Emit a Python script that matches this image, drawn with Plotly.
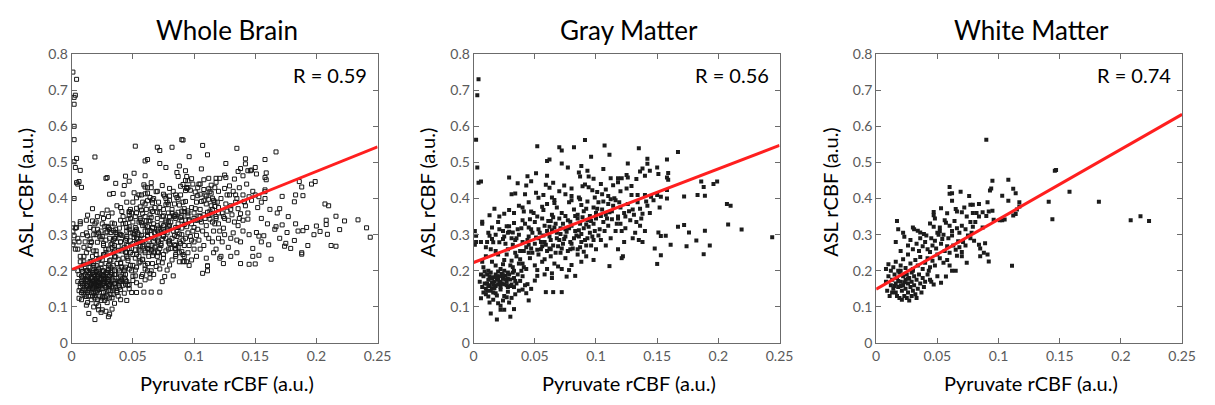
import plotly.graph_objects as go

# ---------------- data ----------------
panel_titles = ["Whole Brain", "Gray Matter", "White Matter"]
r_labels = ["R = 0.59", "R = 0.56", "R = 0.74"]
x_label = "Pyruvate rCBF (a.u.)"
y_label = "ASL rCBF (a.u.)"
x_ticks = [0, 0.05, 0.1, 0.15, 0.2, 0.25]
x_tick_text = ["0", "0.05", "0.1", "0.15", "0.2", "0.25"]
y_ticks = [0, 0.1, 0.2, 0.3, 0.4, 0.5, 0.6, 0.7, 0.8]
y_tick_text = ["0", "0.1", "0.2", "0.3", "0.4", "0.5", "0.6", "0.7", "0.8"]

fit_x = [0.0, 0.25]
wb_fit_y = [0.203, 0.543]
gm_fit_y = [0.223, 0.547]
wm_fit_y = [0.149, 0.633]

# Gray matter voxels (x = pyruvate rCBF, y = ASL rCBF)
gm_points = [
    (0.004,0.730),(0.003,0.686),(0.002,0.563),(0.003,0.486),(0.004,0.444),(0.006,0.447),(0.001,0.310),(0.002,0.280),(0.001,0.272),
    (0.052,0.545),(0.070,0.542),(0.072,0.533),(0.082,0.542),(0.091,0.562),(0.107,0.547),(0.135,0.539),(0.111,0.521),(0.096,0.516),
    (0.060,0.504),(0.062,0.508),(0.072,0.497),(0.126,0.497),(0.142,0.510),(0.167,0.529),(0.158,0.508),
    (0.077,0.486),(0.051,0.470),(0.029,0.458),(0.044,0.462),(0.060,0.463),(0.047,0.448),(0.086,0.472),(0.087,0.461),(0.093,0.477),
    (0.094,0.461),(0.098,0.455),(0.106,0.482),(0.112,0.456),(0.118,0.456),(0.121,0.456),(0.125,0.465),(0.126,0.458),(0.133,0.454),
    (0.136,0.475),(0.142,0.496),(0.138,0.483),(0.140,0.463),(0.144,0.477),(0.150,0.486),(0.159,0.471),(0.158,0.458),(0.159,0.452),
    (0.151,0.468),(0.088,0.490),
    (0.043,0.436),(0.031,0.412),(0.034,0.414),(0.042,0.412),(0.051,0.416),(0.059,0.438),(0.057,0.410),(0.065,0.444),(0.074,0.436),
    (0.080,0.428),(0.089,0.434),(0.091,0.439),(0.094,0.431),(0.097,0.423),(0.075,0.412),(0.080,0.407),(0.086,0.403),(0.099,0.403),
    (0.105,0.412),(0.110,0.407),(0.115,0.401),(0.104,0.440),(0.114,0.437),(0.129,0.435),(0.129,0.410),(0.134,0.410),(0.140,0.410),
    (0.145,0.405),(0.186,0.447),(0.199,0.447),(0.196,0.440),(0.188,0.432),(0.158,0.424),(0.150,0.410),(0.153,0.405),(0.158,0.400),
    (0.172,0.406),(0.183,0.410),(0.189,0.408),(0.053,0.402),(0.064,0.403),(0.066,0.396),(0.120,0.420),(0.125,0.428),(0.108,0.425),
    (0.070,0.420),(0.062,0.430),(0.036,0.442),(0.118,0.445),(0.101,0.418),
    (0.056,0.377),(0.057,0.368),(0.013,0.354),(0.021,0.350),(0.029,0.368),(0.041,0.364),(0.047,0.364),(0.037,0.380),(0.045,0.390),
    (0.060,0.385),(0.068,0.375),(0.072,0.360),(0.078,0.390),(0.082,0.370),(0.085,0.355),(0.088,0.382),(0.090,0.365),(0.093,0.392),
    (0.095,0.352),(0.098,0.375),(0.100,0.360),(0.102,0.390),(0.105,0.370),(0.108,0.355),(0.110,0.385),(0.113,0.365),(0.116,0.395),
    (0.118,0.350),(0.120,0.375),(0.123,0.360),(0.126,0.385),(0.130,0.370),(0.134,0.390),(0.138,0.358),(0.142,0.380),(0.147,0.395),
    (0.152,0.375),(0.207,0.385),(0.210,0.380),(0.064,0.355),(0.075,0.352),(0.052,0.350),(0.040,0.375),(0.033,0.360),(0.080,0.395),
    (0.087,0.398),(0.112,0.398),(0.017,0.372),(0.025,0.358),(0.066,0.388),(0.092,0.372),(0.106,0.392),(0.136,0.372),
    (0.007,0.336),(0.007,0.330),(0.027,0.323),(0.029,0.323),(0.033,0.332),(0.029,0.308),(0.032,0.306),(0.040,0.340),(0.045,0.320),
    (0.048,0.305),(0.050,0.335),(0.053,0.315),(0.056,0.345),(0.058,0.325),(0.060,0.310),(0.063,0.338),(0.066,0.320),(0.068,0.305),
    (0.070,0.345),(0.073,0.330),(0.075,0.315),(0.077,0.340),(0.080,0.325),(0.083,0.310),(0.085,0.345),(0.087,0.330),(0.090,0.318),
    (0.093,0.340),(0.095,0.305),(0.098,0.330),(0.100,0.345),(0.103,0.315),(0.106,0.335),(0.110,0.325),(0.113,0.343),(0.116,0.310),
    (0.120,0.330),(0.124,0.318),(0.128,0.340),(0.132,0.305),(0.136,0.325),(0.140,0.310),(0.015,0.320),(0.020,0.335),(0.024,0.310),
    (0.036,0.315),(0.042,0.330),(0.167,0.322),(0.172,0.327),(0.151,0.306),(0.176,0.306),(0.189,0.311),(0.219,0.314),(0.208,0.328),
    (0.062,0.322),(0.071,0.318),(0.079,0.336),(0.092,0.328),(0.065,0.348),(0.088,0.302),(0.012,0.305),(0.046,0.343),(0.118,0.345),
    (0.002,0.297),(0.013,0.297),(0.015,0.288),(0.016,0.279),(0.021,0.279),(0.024,0.288),(0.028,0.260),(0.032,0.272),(0.035,0.290),
    (0.038,0.255),(0.040,0.280),(0.043,0.265),(0.045,0.295),(0.048,0.250),(0.050,0.275),(0.053,0.290),(0.055,0.260),(0.058,0.280),
    (0.060,0.255),(0.062,0.295),(0.065,0.270),(0.067,0.250),(0.070,0.285),(0.072,0.262),(0.075,0.295),(0.077,0.255),(0.080,0.275),
    (0.082,0.290),(0.085,0.260),(0.088,0.280),(0.090,0.253),(0.093,0.290),(0.096,0.270),(0.100,0.260),(0.104,0.285),(0.108,0.270),
    (0.112,0.290),(0.118,0.260),(0.123,0.280),(0.130,0.290),(0.135,0.285),(0.138,0.280),(0.153,0.296),(0.157,0.297),(0.182,0.284),
    (0.193,0.270),(0.174,0.268),(0.161,0.272),(0.148,0.262),(0.244,0.293),(0.010,0.265),(0.006,0.280),(0.018,0.255),(0.026,0.275),
    (0.034,0.250),(0.056,0.268),(0.068,0.290),(0.073,0.275),(0.086,0.295),(0.098,0.285),(0.062,0.262),(0.079,0.260),(0.052,0.258),
    (0.045,0.272),
    (0.010,0.240),(0.015,0.225),(0.020,0.245),(0.025,0.230),(0.030,0.215),(0.035,0.240),(0.040,0.220),(0.043,0.205),(0.046,0.235),
    (0.050,0.215),(0.053,0.245),(0.056,0.225),(0.060,0.205),(0.063,0.240),(0.066,0.220),(0.069,0.212),(0.072,0.205),(0.075,0.235),
    (0.078,0.202),(0.080,0.216),(0.085,0.245),(0.088,0.225),(0.092,0.240),(0.098,0.230),(0.121,0.235),(0.122,0.240),(0.150,0.219),
    (0.153,0.243),(0.188,0.246),(0.008,0.210),(0.012,0.200),(0.018,0.215),(0.022,0.205),(0.027,0.245),(0.033,0.200),(0.038,0.232),
    (0.045,0.250),(0.007,0.225),(0.052,0.202),(0.058,0.232),(0.111,0.213),(0.031,0.228),(0.024,0.218),
    (0.005,0.170),(0.007,0.155),(0.008,0.185),(0.009,0.165),(0.010,0.150),(0.011,0.190),(0.012,0.175),(0.013,0.160),(0.014,0.195),
    (0.015,0.168),(0.015,0.152),(0.016,0.182),(0.017,0.170),(0.018,0.158),(0.018,0.190),(0.019,0.175),(0.020,0.162),(0.020,0.198),
    (0.021,0.185),(0.022,0.170),(0.022,0.155),(0.023,0.192),(0.024,0.178),(0.025,0.163),(0.025,0.200),(0.026,0.186),(0.027,0.170),
    (0.028,0.155),(0.029,0.190),(0.030,0.176),(0.031,0.162),(0.032,0.195),(0.033,0.180),(0.035,0.165),(0.036,0.190),(0.038,0.172),
    (0.040,0.185),(0.042,0.160),(0.044,0.163),(0.047,0.150),(0.050,0.173),(0.052,0.186),(0.058,0.190),(0.064,0.180),(0.064,0.193),
    (0.076,0.184),(0.083,0.186),(0.006,0.190),(0.009,0.198),(0.013,0.185),(0.017,0.152),(0.021,0.168),(0.024,0.188),(0.028,0.178),
    (0.030,0.158),(0.034,0.172),(0.012,0.158),(0.016,0.162),(0.019,0.185),(0.023,0.165),(0.026,0.176),(0.020,0.178),
    (0.006,0.124),(0.012,0.129),(0.016,0.120),(0.020,0.110),(0.022,0.103),(0.029,0.112),(0.045,0.118),(0.059,0.141),(0.065,0.141),
    (0.072,0.141),(0.008,0.140),(0.010,0.135),(0.014,0.145),(0.018,0.138),(0.022,0.148),(0.025,0.130),(0.028,0.142),(0.031,0.125),
    (0.034,0.135),(0.037,0.145),(0.013,0.112),(0.024,0.118),(0.027,0.127),(0.019,0.132),(0.011,0.145),(0.016,0.140),(0.040,0.148),
    (0.043,0.138),
    (0.014,0.082),(0.019,0.065),(0.022,0.092),(0.025,0.092),(0.030,0.073),(0.033,0.094),
    (0.041,0.255),(0.044,0.285),(0.047,0.315),(0.049,0.360),(0.051,0.292),(0.054,0.305),(0.057,0.298),(0.059,0.272),(0.061,0.338),
    (0.063,0.285),(0.064,0.312),(0.067,0.330),(0.069,0.268),(0.071,0.302),(0.074,0.288),(0.076,0.308),(0.078,0.318),(0.081,0.262),
    (0.083,0.352),(0.084,0.298),(0.086,0.312),(0.089,0.348),(0.091,0.285),(0.094,0.322),(0.096,0.338),(0.097,0.295),(0.099,0.310),
    (0.101,0.372),(0.102,0.298),(0.104,0.352),(0.107,0.310),(0.109,0.345),(0.111,0.362),(0.114,0.380),(0.117,0.330),(0.119,0.390),
    (0.121,0.310),(0.124,0.350),(0.127,0.365),(0.131,0.355),(0.133,0.335),(0.137,0.345),(0.141,0.392),(0.144,0.360),(0.039,0.318),
    (0.037,0.300),(0.034,0.285),(0.031,0.290),(0.028,0.305),(0.025,0.295),(0.021,0.315),(0.018,0.300),(0.014,0.260),(0.011,0.280),
    (0.047,0.262),(0.055,0.280),(0.063,0.260),(0.071,0.250),(0.079,0.280),(0.087,0.265),(0.092,0.270),(0.037,0.220),(0.032,0.210),
    (0.028,0.195),(0.015,0.180),(0.011,0.165),(0.027,0.160),(0.033,0.155),(0.039,0.200),(0.041,0.210),
]

# White matter voxels
wm_points = [
    (0.090,0.563),(0.146,0.477),(0.147,0.479),(0.158,0.419),(0.141,0.391),(0.144,0.343),(0.182,0.391),(0.208,0.340),(0.216,0.351),
    (0.223,0.338),(0.111,0.214),
    (0.095,0.449),(0.108,0.452),(0.112,0.427),(0.114,0.415),(0.060,0.432),(0.060,0.413),(0.062,0.415),(0.069,0.419),(0.076,0.407),
    (0.062,0.394),(0.093,0.422),(0.094,0.428),(0.103,0.408),(0.108,0.394),(0.117,0.390),(0.077,0.383),(0.079,0.383),(0.084,0.385),
    (0.091,0.390),(0.047,0.363),(0.047,0.354),(0.053,0.373),(0.058,0.359),(0.065,0.371),(0.066,0.364),(0.079,0.360),(0.082,0.360),
    (0.087,0.362),(0.092,0.364),(0.095,0.366),(0.084,0.350),(0.090,0.352),(0.096,0.341),(0.101,0.340),(0.103,0.340),(0.105,0.342),
    (0.112,0.353),(0.114,0.357),(0.070,0.362),(0.074,0.350),(0.072,0.375),(0.115,0.370),(0.117,0.378),
    (0.017,0.338),(0.030,0.320),(0.031,0.315),(0.018,0.315),(0.081,0.335),(0.087,0.320),(0.056,0.340),(0.057,0.333),(0.044,0.331),
    (0.047,0.322),(0.034,0.311),(0.036,0.306),(0.039,0.302),(0.041,0.298),(0.050,0.305),(0.052,0.310),(0.055,0.300),(0.062,0.310),
    (0.066,0.318),(0.070,0.325),(0.073,0.315),(0.078,0.305),(0.060,0.325),(0.064,0.338),(0.048,0.345),(0.052,0.320),(0.068,0.305),
    (0.079,0.322),(0.077,0.335),(0.022,0.305),
    (0.023,0.294),(0.045,0.290),(0.048,0.283),(0.051,0.300),(0.054,0.288),(0.059,0.290),(0.062,0.298),(0.067,0.282),(0.071,0.280),
    (0.075,0.298),(0.077,0.290),(0.080,0.283),(0.084,0.272),(0.085,0.262),(0.089,0.276),(0.026,0.270),(0.030,0.260),(0.033,0.275),
    (0.035,0.255),(0.038,0.268),(0.040,0.280),(0.042,0.260),(0.044,0.252),(0.046,0.270),(0.049,0.262),(0.053,0.275),(0.056,0.255),
    (0.058,0.268),(0.060,0.250),(0.063,0.270),(0.065,0.258),(0.068,0.265),(0.070,0.252),(0.073,0.270),(0.020,0.255),(0.028,0.285),
    (0.016,0.280),(0.036,0.290),
    (0.088,0.250),(0.091,0.245),(0.092,0.226),(0.085,0.240),(0.070,0.240),(0.074,0.222),(0.065,0.200),(0.062,0.200),(0.060,0.215),
    (0.058,0.230),(0.055,0.222),(0.052,0.235),(0.050,0.245),(0.048,0.215),(0.046,0.228),(0.044,0.210),(0.042,0.235),(0.040,0.222),
    (0.038,0.205),(0.036,0.238),(0.034,0.215),(0.032,0.230),(0.030,0.205),(0.028,0.220),(0.026,0.245),(0.024,0.208),(0.022,0.232),
    (0.020,0.215),(0.018,0.200),(0.016,0.225),(0.014,0.210),(0.012,0.200),(0.010,0.218),(0.008,0.205),(0.050,0.185),(0.053,0.167),
    (0.057,0.184),(0.045,0.170),(0.047,0.162),(0.043,0.200),(0.066,0.242),
    (0.008,0.170),(0.009,0.145),(0.010,0.185),(0.011,0.130),(0.012,0.160),(0.013,0.175),(0.014,0.150),(0.015,0.190),(0.016,0.140),
    (0.016,0.165),(0.017,0.180),(0.018,0.155),(0.019,0.195),(0.019,0.125),(0.020,0.170),(0.021,0.145),(0.022,0.185),(0.022,0.160),
    (0.023,0.130),(0.024,0.175),(0.024,0.150),(0.025,0.190),(0.026,0.165),(0.026,0.140),(0.027,0.180),(0.027,0.118),(0.028,0.155),
    (0.029,0.170),(0.029,0.195),(0.030,0.145),(0.031,0.185),(0.031,0.160),(0.032,0.135),(0.033,0.175),(0.034,0.150),(0.035,0.190),
    (0.036,0.165),(0.037,0.140),(0.038,0.180),(0.039,0.155),(0.040,0.170),(0.042,0.190),(0.044,0.175),(0.013,0.140),(0.017,0.130),
    (0.021,0.120),(0.025,0.125),(0.029,0.130),(0.033,0.125),(0.020,0.158),(0.023,0.168),(0.018,0.172),(0.026,0.178),(0.015,0.158),
    (0.030,0.200),(0.020,0.200),
]

# Additional whole-brain voxels (neither gray nor white matter)
wb_extra_points = [
    (0.001,0.750),(0.002,0.680),(0.002,0.661),(0.002,0.600),(0.004,0.511),(0.002,0.502),(0.007,0.478),(0.005,0.440),(0.008,0.431),
    (0.002,0.400),(0.019,0.515),(0.028,0.456),(0.001,0.330),(0.003,0.318),(0.005,0.290),(0.003,0.260),
    (0.163,0.232),(0.145,0.218),(0.107,0.193),(0.111,0.200),(0.091,0.225),(0.094,0.225),(0.166,0.315),(0.234,0.341),(0.241,0.319),
    (0.209,0.301),(0.200,0.324),(0.203,0.309),(0.175,0.276),(0.179,0.262),(0.170,0.372),(0.185,0.310),(0.160,0.330),(0.155,0.345),
    (0.140,0.340),(0.145,0.300),(0.135,0.250),(0.128,0.265),(0.120,0.290),(0.115,0.280),(0.125,0.300),
    (0.006,0.145),(0.009,0.160),(0.011,0.175),(0.014,0.130),(0.017,0.195),(0.020,0.140),(0.023,0.150),(0.026,0.200),(0.029,0.165),
    (0.032,0.145),(0.035,0.200),(0.038,0.160),(0.041,0.175),(0.044,0.190),(0.047,0.205),(0.015,0.210),(0.010,0.225),(0.005,0.200),
    (0.008,0.120),(0.012,0.105),(0.018,0.100),(0.028,0.088),(0.031,0.080),(0.024,0.085),
    (0.040,0.300),(0.045,0.310),(0.055,0.335),(0.060,0.350),(0.065,0.300),(0.070,0.310),(0.075,0.325),(0.080,0.350),(0.085,0.320),
    (0.090,0.340),(0.095,0.360),(0.100,0.320),(0.105,0.350),(0.110,0.300),(0.115,0.335),(0.120,0.360),(0.125,0.345),(0.130,0.380),
    (0.135,0.400),(0.050,0.390),(0.055,0.410),(0.065,0.430),(0.075,0.370),(0.085,0.410),(0.095,0.430),(0.105,0.440),(0.030,0.350),
    (0.025,0.330),(0.020,0.300),(0.015,0.270),(0.035,0.270),(0.045,0.240),(0.055,0.240),(0.065,0.255),(0.075,0.245),(0.085,0.270),
    (0.095,0.250),(0.100,0.280),(0.105,0.260),(0.110,0.235),(0.090,0.300),
    (0.007,0.165),(0.009,0.180),(0.013,0.170),(0.016,0.150),(0.019,0.165),(0.021,0.190),(0.024,0.160),(0.027,0.185),(0.030,0.170),
    (0.033,0.190),(0.036,0.155),(0.039,0.170),(0.043,0.180),(0.046,0.160),(0.049,0.200),(0.013,0.200),(0.018,0.220),(0.023,0.235),
    (0.028,0.250),(0.033,0.265),(0.012,0.250),(0.017,0.240),(0.007,0.240),(0.005,0.260),(0.009,0.300),(0.004,0.320),(0.012,0.340),
    (0.019,0.330),(0.026,0.345),(0.035,0.330),(0.042,0.350),(0.048,0.370),(0.053,0.360),(0.058,0.390),(0.061,0.370),(0.067,0.400),
    (0.071,0.390),(0.077,0.400),(0.083,0.420),(0.089,0.410),(0.093,0.450),(0.099,0.440),(0.103,0.430),(0.109,0.410),(0.113,0.420),
    (0.117,0.430),(0.122,0.400),(0.127,0.410),(0.132,0.420),(0.137,0.430),(0.143,0.440),(0.148,0.420),(0.155,0.390),(0.162,0.370),
    (0.168,0.360),(0.177,0.350),(0.183,0.330),(0.192,0.320),(0.198,0.300),(0.212,0.270),(0.216,0.268),(0.188,0.250),(0.170,0.290),
    (0.155,0.280),(0.148,0.240),(0.138,0.220),(0.130,0.240),(0.124,0.220),(0.116,0.250),(0.102,0.240),(0.096,0.215),(0.082,0.230),
    (0.071,0.225),(0.062,0.220),(0.053,0.210),(0.067,0.190),(0.074,0.170),(0.056,0.160),(0.060,0.175),(0.049,0.140),(0.038,0.130),
    (0.035,0.110),(0.040,0.120),(0.053,0.140),
]

wb_points = gm_points + wm_points + wb_extra_points

# ---------------- figure ----------------
W, H = 1215, 405
plot_left_px = [68.7, 476.7, 885.3]
plot_w_px = 310.5
plot_top_px, plot_bot_px = 47.0, 348.7
FONT = "Lato, Open Sans, sans-serif"

fig = go.Figure()

panels = [
    (wb_points, wb_fit_y, dict(symbol="square-open", size=4, color="#161616", line=dict(width=1, color="#161616"))),
    (gm_points, gm_fit_y, dict(symbol="square", size=4, color="#1c1c1c", line=dict(width=0))),
    (wm_points, wm_fit_y, dict(symbol="square", size=4, color="#1c1c1c", line=dict(width=0))),
]

axis_common = dict(
    showline=True, linecolor="#6b6b6b", linewidth=1, mirror="ticks",
    ticks="inside", ticklen=5, tickwidth=1, tickcolor="#6b6b6b",
    showgrid=False, zeroline=False,
    tickfont=dict(family=FONT, size=14, color="#5a5a5a"),
)

annotations = []
for i, (pts, fit_y, mk) in enumerate(panels):
    n = "" if i == 0 else str(i + 1)
    xs = [p[0] for p in pts]
    ys = [p[1] for p in pts]
    fig.add_trace(go.Scatter(x=xs, y=ys, mode="markers", marker=mk,
                             xaxis="x" + n, yaxis="y" + n, showlegend=False, hoverinfo="skip"))
    fig.add_trace(go.Scatter(x=fit_x, y=fit_y, mode="lines", line=dict(color="#ff1f1f", width=3),
                             xaxis="x" + n, yaxis="y" + n, showlegend=False, hoverinfo="skip"))
    x0 = plot_left_px[i] / W
    x1 = (plot_left_px[i] + plot_w_px) / W
    y0 = 1 - plot_bot_px / H
    y1 = 1 - plot_top_px / H
    fig.update_layout(**{
        "xaxis" + n: dict(axis_common, domain=[x0, x1], range=[0, 0.25], anchor="y" + n,
                          tickvals=x_ticks, ticktext=x_tick_text),
        "yaxis" + n: dict(axis_common, domain=[y0, y1], range=[0, 0.8], anchor="x" + n,
                          tickvals=y_ticks, ticktext=y_tick_text),
    })
    cx = (plot_left_px[i] + plot_w_px / 2) / W
    annotations.append(dict(text=panel_titles[i], x=cx + 2 / W, y=1 - 22 / H, xref="paper", yref="paper",
                            xanchor="center", yanchor="middle", showarrow=False,
                            font=dict(family=FONT, size=26, color="#000")))
    annotations.append(dict(text=x_label, x=cx + 2 / W, y=1 - 390 / H, xref="paper", yref="paper",
                            xanchor="center", yanchor="middle", showarrow=False,
                            font=dict(family=FONT, size=20, color="#000")))
    annotations.append(dict(text=y_label, x=(plot_left_px[i] - 47) / W, y=1 - 191 / H, xref="paper",
                            yref="paper", xanchor="center", yanchor="middle", textangle=-90,
                            showarrow=False, font=dict(family=FONT, size=20, color="#000")))
    annotations.append(dict(text=r_labels[i], x=(plot_left_px[i] + plot_w_px - 9) / W, y=1 - 69 / H,
                            xref="paper", yref="paper", xanchor="right", yanchor="middle",
                            showarrow=False, font=dict(family=FONT, size=20, color="#000")))

fig.update_layout(
    width=W, height=H, margin=dict(l=0, r=0, t=0, b=0),
    paper_bgcolor="white", plot_bgcolor="white",
    annotations=annotations,
)

fig.write_html("out.html")
